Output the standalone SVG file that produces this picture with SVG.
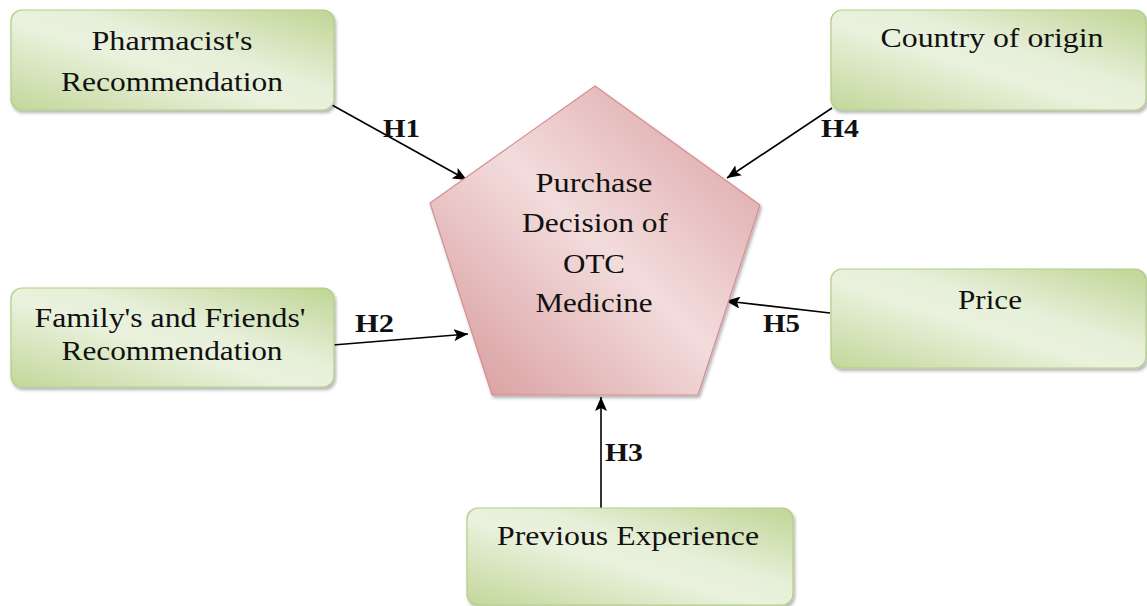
<svg xmlns="http://www.w3.org/2000/svg" width="1147" height="606" viewBox="0 0 1147 606">
<defs>
<linearGradient id="gGreen" x1="0" y1="1" x2="1" y2="0">
<stop offset="0" stop-color="#c2d79a"/>
<stop offset="0.45" stop-color="#eaf2de"/>
<stop offset="0.6" stop-color="#e6efd8"/>
<stop offset="1" stop-color="#bfd594"/>
</linearGradient>
<linearGradient id="gPink" x1="0" y1="1" x2="1" y2="0">
<stop offset="0" stop-color="#d69698"/>
<stop offset="0.5" stop-color="#f3dcdc"/>
<stop offset="1" stop-color="#d99c9e"/>
</linearGradient>
<filter id="sh" x="-5%" y="-5%" width="112%" height="120%">
<feDropShadow dx="1.5" dy="2.5" stdDeviation="1.5" flood-color="#000" flood-opacity="0.3"/>
</filter>
<marker id="ah" viewBox="0 0 14 12" refX="14" refY="6" markerWidth="14" markerHeight="12" markerUnits="userSpaceOnUse" orient="auto">
<path d="M0,0 L14,6 L0,12 L3,6 Z" fill="#000"/>
</marker>
<style>
.box{fill:url(#gGreen);stroke:#b3cd86;stroke-width:1.2;filter:url(#sh)}
.pent{fill:url(#gPink);stroke:#d48e90;stroke-width:1.2;filter:url(#sh)}
.t{font-family:"Liberation Serif","Times New Roman",serif;font-size:27px;fill:#111;text-anchor:middle}
.h{font-family:"Liberation Serif","Times New Roman",serif;font-size:26px;font-weight:bold;fill:#111}
.c{stroke:#000;stroke-width:1.6;fill:none;marker-end:url(#ah)}
</style>
</defs>
<rect width="1147" height="606" fill="#fff"/>
<g id="connectors">
<line class="c" x1="332" y1="105" x2="467" y2="180"/>
<line class="c" x1="832" y1="108" x2="727" y2="178"/>
<line class="c" x1="333" y1="345" x2="468" y2="334"/>
<line class="c" x1="830" y1="313" x2="726" y2="301"/>
<line class="c" x1="601" y1="508" x2="601" y2="397"/>
<text class="h" x="383" y="137" textLength="37" lengthAdjust="spacingAndGlyphs">H1</text>
<text class="h" x="821" y="137" textLength="38" lengthAdjust="spacingAndGlyphs">H4</text>
<text class="h" x="355" y="332" textLength="39" lengthAdjust="spacingAndGlyphs">H2</text>
<text class="h" x="763" y="332" textLength="37" lengthAdjust="spacingAndGlyphs">H5</text>
<text class="h" x="605" y="461" textLength="38" lengthAdjust="spacingAndGlyphs">H3</text>
</g>
<g id="center">
<polygon class="pent" points="595,86 760,205 698,395 492,395 430,203"/>
<text class="t" x="594" y="192" font-size="26" textLength="117" lengthAdjust="spacingAndGlyphs">Purchase</text>
<text class="t" x="595" y="232" font-size="26" textLength="146" lengthAdjust="spacingAndGlyphs">Decision of</text>
<text class="t" x="594" y="273" font-size="26" textLength="62" lengthAdjust="spacingAndGlyphs">OTC</text>
<text class="t" x="594" y="312" font-size="26" textLength="117" lengthAdjust="spacingAndGlyphs">Medicine</text>
</g>
<g id="pharmacist">
<rect class="box" x="11" y="10" width="323" height="100" rx="11"/>
<text class="t" x="172" y="50" textLength="161" lengthAdjust="spacingAndGlyphs">Pharmacist's</text>
<text class="t" x="172" y="91" textLength="222" lengthAdjust="spacingAndGlyphs">Recommendation</text>
</g>
<g id="country">
<rect class="box" x="831" y="10" width="315" height="100" rx="11"/>
<text class="t" x="992" y="47" textLength="223" lengthAdjust="spacingAndGlyphs">Country of origin</text>
</g>
<g id="family">
<rect class="box" x="11" y="288" width="323" height="99" rx="11"/>
<text class="t" x="170" y="327" textLength="271" lengthAdjust="spacingAndGlyphs">Family's and Friends'</text>
<text class="t" x="172" y="360" textLength="221" lengthAdjust="spacingAndGlyphs">Recommendation</text>
</g>
<g id="price">
<rect class="box" x="831" y="269" width="315" height="99" rx="11"/>
<text class="t" x="990" y="309" textLength="64" lengthAdjust="spacingAndGlyphs">Price</text>
</g>
<g id="experience">
<rect class="box" x="467" y="508" width="326" height="97" rx="11"/>
<text class="t" x="628" y="545" textLength="262" lengthAdjust="spacingAndGlyphs">Previous Experience</text>
</g>
</svg>
